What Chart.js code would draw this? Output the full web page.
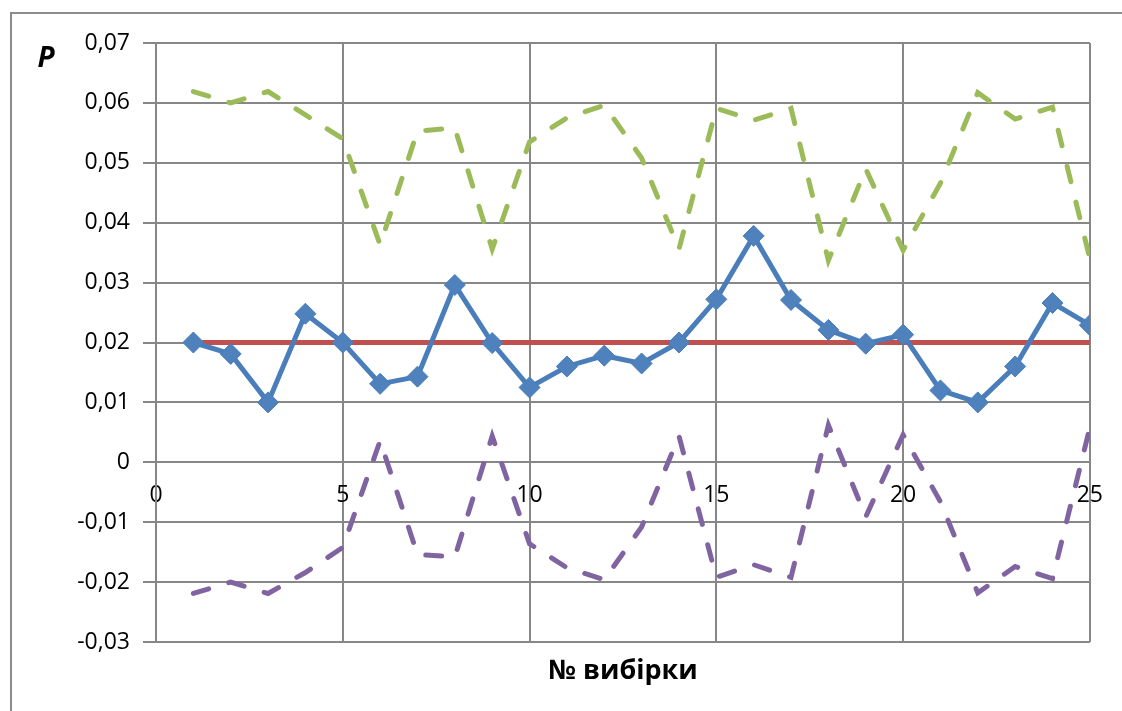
<!DOCTYPE html>
<html>
<head>
<meta charset="utf-8">
<script src="https://cdn.jsdelivr.net/npm/chart.js@4"></script>
<style>
  html, body { margin: 0; padding: 0; background: #fff; }
  #wrap { width: 1122px; height: 711px; position: relative; }
</style>
</head>
<body>
<div id="wrap"><canvas id="c" width="1122" height="711"></canvas></div>
<script>
// ---- data ----
const samples = [1,2,3,4,5,6,7,8,9,10,11,12,13,14,15,16,17,18,19,20,21,22,23,24,25];
const pValues = [0.0200, 0.0181, 0.0100, 0.0248, 0.0200, 0.0131, 0.0143, 0.0296, 0.0199, 0.0125,
                 0.0160, 0.0178, 0.0165, 0.0200, 0.0272, 0.0378, 0.0271, 0.0221, 0.0198, 0.0213,
                 0.0120, 0.0100, 0.0160, 0.0266, 0.0229];
const pTarget = [0.02, 0.02, 0.02, 0.02, 0.02, 0.02, 0.02, 0.02, 0.02, 0.02,
                 0.02, 0.02, 0.02, 0.02, 0.02, 0.02, 0.02, 0.02, 0.02, 0.02,
                 0.02, 0.02, 0.02, 0.02, 0.02];
const upperLimit = [0.0619, 0.0600, 0.0619, 0.0580, 0.0540, 0.0363, 0.0553, 0.0558, 0.0356, 0.0535,
                    0.0575, 0.0596, 0.0508, 0.0356, 0.0591, 0.0571, 0.0591, 0.0337, 0.0490, 0.0354,
                    0.0466, 0.0617, 0.0573, 0.0593, 0.0340];
const lowerLimit = [-0.0219, -0.0200, -0.0219, -0.0184, -0.0142, 0.0036, -0.0154, -0.0158, 0.0044, -0.0136,
                    -0.0176, -0.0196, -0.0108, 0.0044, -0.0192, -0.0171, -0.0192, 0.0062, -0.0091, 0.0046,
                    -0.0066, -0.0218, -0.0174, -0.0194, 0.0058];
const yAxisTitle = 'P';
const xAxisTitle = '№ вибірки';

const pts = arr => samples.map((x, i) => ({ x: x, y: arr[i] }));
const fmtY = v => {
  const r = Math.round(v * 100);
  if (r === 0) return '0';
  return (r / 100).toFixed(2).replace('.', ',');
};

const GRID = '#878787';
const FONT = '"Open Sans", "DejaVu Sans", sans-serif';

const framePlugin = {
  id: 'frame',
  beforeDraw(chart) {
    const ctx = chart.ctx;
    ctx.save();
    ctx.fillStyle = '#ffffff';
    ctx.fillRect(0, 0, chart.width, chart.height);
    ctx.strokeStyle = '#8c8c8c';
    ctx.lineWidth = 2;
    ctx.strokeRect(11, 13, 1300, 900);
    ctx.restore();
  },
  afterDraw(chart) {
    const ctx = chart.ctx;
    const a = chart.chartArea;
    ctx.save();
    ctx.fillStyle = '#000';
    ctx.textAlign = 'center';
    ctx.textBaseline = 'middle';
    ctx.font = 'italic bold 28px ' + FONT;
    ctx.fillText(yAxisTitle, 46, 59);
    ctx.font = 'bold 27px ' + FONT;
    ctx.fillText(xAxisTitle, (a.left + a.right) / 2, 671);
    ctx.restore();
  }
};

new Chart(document.getElementById('c'), {
  type: 'line',
  data: {
    datasets: [
      {
        data: pts(pValues),
        borderColor: '#4A7EBB',
        backgroundColor: '#4F81BD',
        borderWidth: 5,
        pointStyle: 'rectRot',
        pointRadius: 10.5,
        pointBorderWidth: 1,
        pointBorderColor: '#4A7EBB',
        pointBackgroundColor: '#4F81BD',
        tension: 0
      },
      {
        data: pts(pTarget),
        borderColor: '#C0504D',
        borderWidth: 5,
        pointRadius: 0,
        tension: 0
      },
      {
        data: pts(upperLimit),
        borderColor: '#9BBB59',
        borderWidth: 5,
        borderDash: [16, 21],
        borderCapStyle: 'round',
        pointRadius: 0,
        tension: 0
      },
      {
        data: pts(lowerLimit),
        borderColor: '#8064A2',
        borderWidth: 5,
        borderDash: [16, 21],
        borderCapStyle: 'round',
        pointRadius: 0,
        tension: 0
      }
    ]
  },
  options: {
    responsive: false,
    animation: false,
    events: [],
    layout: { padding: { left: 10, top: 43, right: 26, bottom: 69 } },
    plugins: {
      legend: { display: false },
      tooltip: { enabled: false },
      title: { display: false }
    },
    scales: {
      x: {
        type: 'linear',
        position: { y: 0 },
        min: 0,
        max: 25,
        ticks: {
          stepSize: 5,
          padding: 19,
          color: '#000',
          font: { family: FONT, size: 23 },
          maxRotation: 0
        },
        grid: { color: GRID, lineWidth: 2, drawTicks: false },
        border: { display: false }
      },
      y: {
        type: 'linear',
        position: 'left',
        min: -0.03,
        max: 0.07,
        afterFit(scale) { scale.width = 146; },
        ticks: {
          stepSize: 0.01,
          padding: 13,
          color: '#000',
          font: { family: FONT, size: 23 },
          callback: v => fmtY(v)
        },
        grid: { color: GRID, lineWidth: 2, tickLength: 13 },
        border: { display: true, color: GRID, width: 2 }
      }
    }
  },
  plugins: [framePlugin]
});
</script>
</body>
</html>
